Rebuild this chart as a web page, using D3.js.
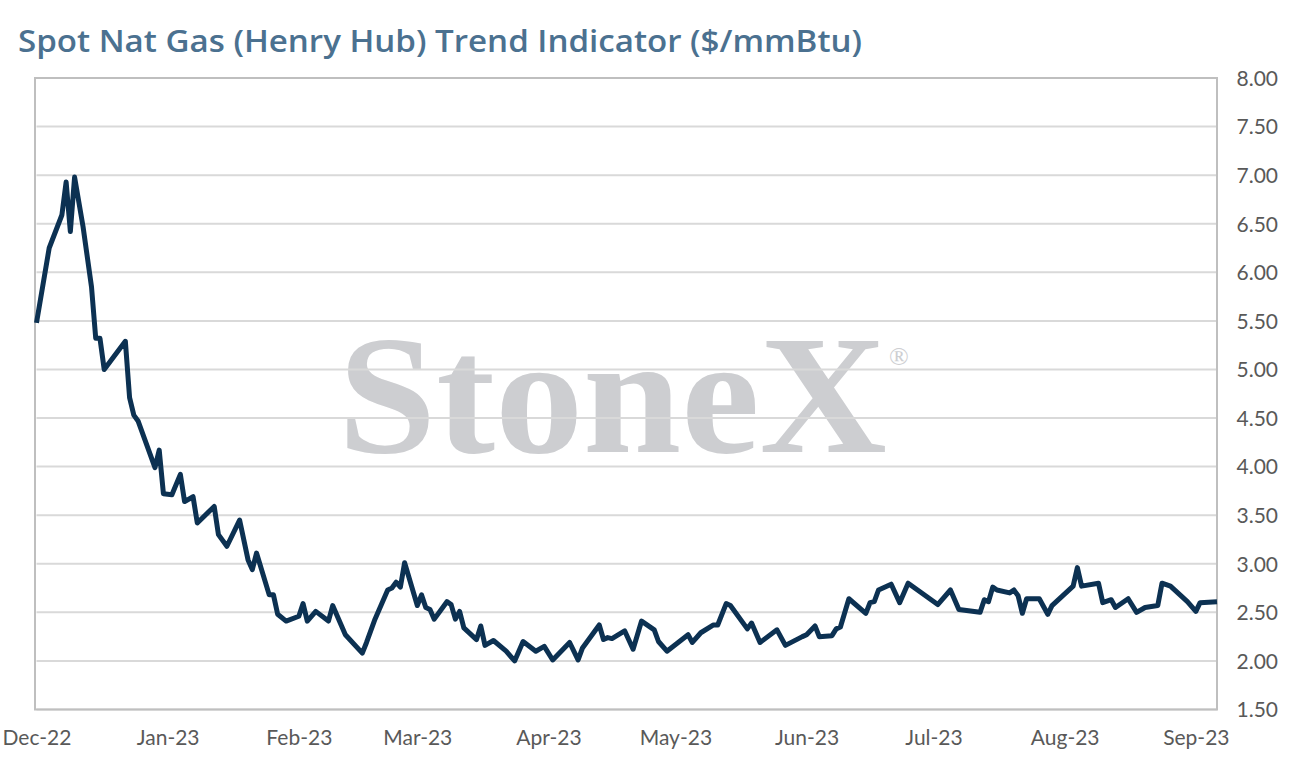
<!DOCTYPE html>
<html>
<head>
<meta charset="utf-8">
<title>Spot Nat Gas (Henry Hub) Trend Indicator</title>
<script src="https://cdn.jsdelivr.net/npm/d3@7"></script>
<style>
  body { margin: 0; background: #fff; font-family: 'Lato', sans-serif; }
  svg { display: block; }
  .title { font-family: 'Open Sans', sans-serif; font-size: 30px; font-weight: 600; fill: #4b7190; }
  .tick text { font-size: 21px; fill: #595959; font-family: 'Lato', sans-serif; }
  .grid line { stroke: #d9d9d9; stroke-width: 2; }
  .watermark { font-family: 'Liberation Serif', serif; fill: #cdced1; }
</style>
</head>
<body>
<svg id="chart" width="1294" height="771"></svg>
<script>
// vertices of the trend line
const dates = [
  '2022-12-01','2022-12-04','2022-12-07','2022-12-08','2022-12-09','2022-12-10','2022-12-12','2022-12-14',
  '2022-12-15','2022-12-16','2022-12-17','2022-12-22','2022-12-23','2022-12-24','2022-12-25','2022-12-29',
  '2022-12-30','2022-12-31','2023-01-02','2023-01-04','2023-01-05','2023-01-07','2023-01-08','2023-01-12',
  '2023-01-13','2023-01-15','2023-01-18','2023-01-20','2023-01-21','2023-01-22','2023-01-25','2023-01-26',
  '2023-01-27','2023-01-29','2023-02-01','2023-02-02','2023-02-03','2023-02-05','2023-02-08','2023-02-09',
  '2023-02-12','2023-02-16','2023-02-17','2023-02-19','2023-02-22','2023-02-23','2023-02-24','2023-02-25',
  '2023-02-26','2023-03-01','2023-03-02','2023-03-03','2023-03-04','2023-03-05','2023-03-08','2023-03-09',
  '2023-03-10','2023-03-11','2023-03-12','2023-03-15','2023-03-16','2023-03-17','2023-03-19','2023-03-22',
  '2023-03-24','2023-03-26','2023-03-29','2023-03-31','2023-04-02','2023-04-06','2023-04-08','2023-04-09',
  '2023-04-13','2023-04-14','2023-04-15','2023-04-16','2023-04-19','2023-04-21','2023-04-23','2023-04-26',
  '2023-04-27','2023-04-29','2023-05-04','2023-05-05','2023-05-07','2023-05-10','2023-05-11','2023-05-13',
  '2023-05-14','2023-05-18','2023-05-19','2023-05-21','2023-05-25','2023-05-27','2023-05-31','2023-06-01',
  '2023-06-03','2023-06-04','2023-06-07','2023-06-08','2023-06-09','2023-06-11','2023-06-15','2023-06-16',
  '2023-06-17','2023-06-18','2023-06-21','2023-06-23','2023-06-25','2023-07-02','2023-07-05','2023-07-07',
  '2023-07-12','2023-07-13','2023-07-14','2023-07-15','2023-07-16','2023-07-19','2023-07-20','2023-07-21',
  '2023-07-22','2023-07-23','2023-07-26','2023-07-28','2023-07-29','2023-08-03','2023-08-04','2023-08-05',
  '2023-08-09','2023-08-10','2023-08-12','2023-08-13','2023-08-16','2023-08-18','2023-08-20','2023-08-23',
  '2023-08-24','2023-08-26','2023-08-30','2023-09-01','2023-09-02','2023-09-06'
];
const prices = [
  5.48, 6.25, 6.59, 6.93, 6.42, 6.98, 6.47, 5.85,
  5.32, 5.32, 5.00, 5.29, 4.71, 4.53, 4.47, 3.99,
  4.17, 3.72, 3.71, 3.92, 3.64, 3.69, 3.42, 3.59,
  3.30, 3.18, 3.45, 3.04, 2.94, 3.11, 2.68, 2.68,
  2.48, 2.41, 2.46, 2.59, 2.41, 2.51, 2.41, 2.57,
  2.27, 2.08, 2.19, 2.43, 2.73, 2.75, 2.81, 2.76,
  3.01, 2.57, 2.68, 2.55, 2.53, 2.43, 2.61, 2.58,
  2.43, 2.51, 2.34, 2.22, 2.36, 2.16, 2.21, 2.10,
  2.00, 2.20, 2.10, 2.15, 2.01, 2.19, 2.01, 2.13,
  2.37, 2.22, 2.24, 2.23, 2.31, 2.12, 2.41, 2.32,
  2.20, 2.10, 2.27, 2.19, 2.29, 2.37, 2.37, 2.59,
  2.57, 2.33, 2.39, 2.19, 2.32, 2.16, 2.25, 2.27,
  2.36, 2.25, 2.26, 2.33, 2.35, 2.64, 2.49, 2.60,
  2.61, 2.73, 2.79, 2.60, 2.80, 2.58, 2.73, 2.53,
  2.50, 2.63, 2.61, 2.76, 2.73, 2.70, 2.73, 2.67,
  2.49, 2.64, 2.64, 2.48, 2.57, 2.77, 2.96, 2.77,
  2.80, 2.60, 2.63, 2.55, 2.64, 2.50, 2.55, 2.57,
  2.80, 2.77, 2.61, 2.51, 2.60, 2.61
];
const monthTicks = ['2022-12-01','2023-01-01','2023-02-01','2023-03-01','2023-04-01','2023-05-01',
  '2023-06-01','2023-07-01','2023-08-01','2023-09-01'];
const priceTicks = [1.5, 2, 2.5, 3, 3.5, 4, 4.5, 5, 5.5, 6, 6.5, 7, 7.5, 8];
const xDomain = ['2022-12-01', '2023-09-06'];

const parse = d3.timeParse('%Y-%m-%d');
const data = dates.map((d, i) => ({ date: parse(d), value: prices[i] }));

const plotLeft = 36.5, plotRight = 1217, plotTop = 78, plotBottom = 709.5;

const svg = d3.select('#chart');

svg.append('text')
  .attr('class', 'title')
  .attr('x', 18)
  .attr('y', 52)
  .attr('textLength', 844)
  .attr('lengthAdjust', 'spacingAndGlyphs')
  .text('Spot Nat Gas (Henry Hub) Trend Indicator ($/mmBtu)');

const x = d3.scaleTime().domain(xDomain.map(parse)).range([plotLeft, plotRight]);
const y = d3.scaleLinear().domain([1.5, 8]).range([plotBottom, plotTop]);

// watermark sits under the grid
const wm = svg.append('g').attr('class', 'watermark');
wm.append('text')
  .attr('x', 338).attr('y', 452)
  .attr('font-size', 170)
  .attr('font-weight', 700)
  .attr('textLength', 549)
  .attr('lengthAdjust', 'spacingAndGlyphs')
  .text('StoneX');
wm.append('text')
  .attr('x', 889).attr('y', 365)
  .attr('font-size', 26)
  .text('\u00AE');

svg.append('g')
  .attr('class', 'grid')
  .selectAll('line')
  .data(priceTicks)
  .join('line')
  .attr('x1', plotLeft).attr('x2', plotRight)
  .attr('y1', d => y(d)).attr('y2', d => y(d));

svg.append('rect')
  .attr('x', 35).attr('y', plotTop)
  .attr('width', plotRight - 35).attr('height', plotBottom - plotTop)
  .attr('fill', 'none')
  .attr('stroke', '#bfbfbf')
  .attr('stroke-width', 2);

const yAxis = svg.append('g')
  .attr('transform', `translate(${plotRight},0)`)
  .call(d3.axisRight(y).tickValues(priceTicks).tickFormat(d => d.toFixed(2)).tickSize(0));
yAxis.select('.domain').remove();
yAxis.selectAll('text').attr('text-anchor', 'end').attr('x', 61).attr('dy', '0.35em');

const xAxis = svg.append('g')
  .attr('transform', `translate(0,${plotBottom})`)
  .call(d3.axisBottom(x).tickValues(monthTicks.map(parse)).tickFormat(d3.timeFormat('%b-%y')).tickSize(0));
xAxis.select('.domain').remove();
xAxis.selectAll('text').attr('y', 21).attr('dy', '0.71em');

const line = d3.line().x(d => x(d.date)).y(d => y(d.value));

svg.append('path')
  .datum(data)
  .attr('d', line)
  .attr('fill', 'none')
  .attr('stroke', '#0c3152')
  .attr('stroke-width', 5)
  .attr('stroke-linejoin', 'round');
</script>
</body>
</html>
